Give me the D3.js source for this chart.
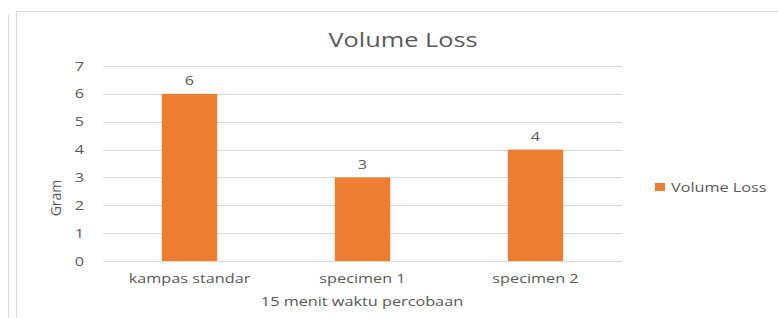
<!DOCTYPE html>
<html>
<head>
<meta charset="utf-8">
<script src="https://cdnjs.cloudflare.com/ajax/libs/d3/7.8.5/d3.min.js"></script>
<style>
  body { margin: 0; background: #fff; }
  text { font-family: 'Open Sans', sans-serif; fill: #595959; }
</style>
</head>
<body>
<svg id="chart" width="778" height="318"></svg>
<script>
const categories = ['kampas standar', 'specimen 1', 'specimen 2']
const volumeLoss = [6, 3, 4]
const yTicks = [0, 1, 2, 3, 4, 5, 6, 7]
const seriesName = 'Volume Loss'

const svg = d3.select('#chart')
const stretch = 1.3

// frame lines
svg.append('line').attr('x1', 8.5).attr('x2', 8.5).attr('y1', 15).attr('y2', 318)
  .attr('stroke', '#d9d9d9')
svg.append('path').attr('d', 'M16.5,318V11.5H778')
  .attr('fill', 'none').attr('stroke', '#d9d9d9')

const x = d3.scaleBand().domain(categories).range([103, 622])
  .paddingInner(0.68).paddingOuter(0.34)
const y = d3.scaleLinear().domain([0, 7]).range([261, 66])

function stext (sel, px, py, str, size, anchor) {
  return sel.append('text')
    .attr('transform', 'translate(' + px + ',' + py + ') scale(' + stretch + ',1)')
    .attr('text-anchor', anchor || 'middle')
    .style('font-size', size + 'px')
    .text(str)
}

// gridlines
svg.append('g').selectAll('line').data(yTicks).enter().append('line')
  .attr('x1', 103).attr('x2', 622)
  .attr('y1', d => Math.round(y(d)) + 0.5).attr('y2', d => Math.round(y(d)) + 0.5)
  .attr('stroke', '#d9d9d9')

// y tick labels
yTicks.forEach(d => stext(svg, 84, y(d) + 4.5, d, 12.5, 'end'))

// bars
svg.append('g').selectAll('rect').data(volumeLoss).enter().append('rect')
  .attr('x', (d, i) => x(categories[i]))
  .attr('width', x.bandwidth())
  .attr('y', d => y(d))
  .attr('height', d => y(0) - y(d))
  .attr('fill', '#ED7D31')

// data labels
volumeLoss.forEach((d, i) => stext(svg, x(categories[i]) + x.bandwidth() / 2, y(d) - 8.5, d, 12.5))

// category labels
categories.forEach(c => stext(svg, x(c) + x.bandwidth() / 2, 283, c, 12.5))

// axis titles
stext(svg, 362, 306, '15 menit waktu percobaan', 12.5)
svg.append('text')
  .attr('transform', 'translate(61,198) rotate(-90)')
  .attr('text-anchor', 'middle')
  .style('font-size', '14px')
  .text('Gram')

// title
stext(svg, 403, 47, 'Volume Loss', 19.5)

// legend
svg.append('rect').attr('x', 655).attr('y', 183).attr('width', 10).attr('height', 8)
  .attr('fill', '#ED7D31')
stext(svg, 671, 192, seriesName, 12.5, 'start')
</script>
</body>
</html>
